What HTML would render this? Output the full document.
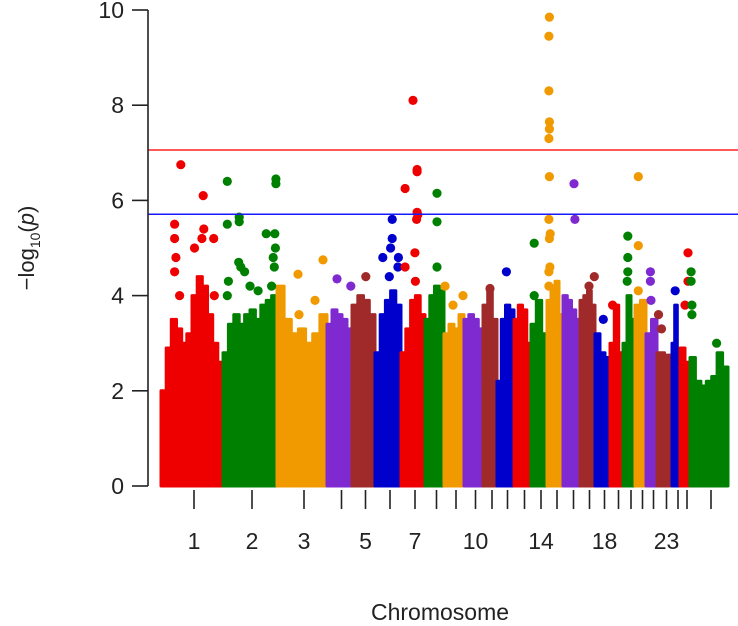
<!DOCTYPE html>
<html><head><meta charset="utf-8"><style>
body{margin:0;background:#fff}
svg{display:block;font-family:"Liberation Sans",sans-serif}
</style></head><body>
<svg id="chart" width="738" height="626" viewBox="0 0 738 626" xmlns="http://www.w3.org/2000/svg">
<g id="bands"></g>
<g id="dots"></g>
<g id="axes"></g>
<text x="440" y="620" font-size="23" text-anchor="middle" fill="#222">Chromosome</text>
<text transform="translate(34,248) rotate(-90)" font-size="22" text-anchor="middle" fill="#222">−log<tspan font-size="14" dy="6">10</tspan><tspan dy="-6">(</tspan><tspan font-style="italic">p</tspan>)</text>
</svg>
<script>
const chromLabels=["1","2","3","4","5","6","7","8","9","10","11","12","13","14","15","16","17","18","19","20","21","22","23","24","25","26"];
const shownLabels=["1","2","3","5","7","10","14","18","23"];
const chromSizes=[62,54,50,25,23,26,24,19,20,19,14,17,17,16,16,17,15,15,13,12,11,11,15,8,10,38];
const yTicks=[0,2,4,6,8,10];
const suggestiveLine=5.71;
const genomeWideLine=7.06;
const palette=["#ee0000","#008000","#f09a00","#7f2ad0","#a02a2a","#0000cc"];
const profiles=[
[2.0,2.9,3.5,3.3,3.0,3.2,4.0,4.4,4.2,3.6,3.0,2.6],
[2.8,3.4,3.6,3.4,3.6,3.7,3.5,3.8,3.9,4.0],
[4.2,3.5,3.2,3.3,3.0,3.2,3.6],
[3.4,3.7,3.6,3.5,3.3],
[3.8,4.0,3.9,3.6],
[2.8,3.6,3.9,4.1,3.8],
[2.8,3.3,3.9,4.0,3.6],
[3.5,4.0,4.2,4.1],
[3.2,3.4,3.3,3.6],
[3.5,3.6,3.5,3.3],
[3.8,4.1,3.5],
[2.2,3.5,3.8,3.7],
[3.5,3.8,3.7,3.0],
[3.4,3.9,3.2],
[3.9,4.2,4.3,3.6],
[4.0,3.9,3.7,3.5],
[3.9,4.0,4.1,3.8],
[3.2,2.8,2.7],
[3.0,3.8,2.8],
[3.0,4.0,3.5],
[3.8,3.9],
[3.2,3.5],
[2.8,2.75],
[3.0,3.8,2.8],
[2.9,2.6],
[2.7,2.2,2.1,2.2,2.3,2.8,2.5]
];
const peaks=[
[[0.32,6.75],[0.68,6.1],[0.22,5.5],[0.22,5.2],[0.24,4.8],[0.22,4.5],[0.54,5.0],[0.69,5.4],[0.85,5.2],[0.66,5.2],[0.86,4.0],[0.3,4.0]],
[[0.08,6.4],[0.08,5.5],[0.08,4.0],[0.1,4.3],[0.3,5.65],[0.3,5.55],[0.29,4.7],[0.33,4.6],[0.4,4.5],[0.5,4.2],[0.65,4.1],[0.8,5.3],[0.96,5.3],[0.98,6.45],[0.98,6.35],[0.97,5.0],[0.95,4.6],[0.9,4.2],[0.93,4.8]],
[[0.42,4.45],[0.92,4.75],[0.76,3.9],[0.44,3.6]],
[[0.4,4.35],[0.95,4.2]],
[[0.6,4.4]],
[[0.66,5.6],[0.66,5.2],[0.6,5.0],[0.3,4.8],[0.9,4.8],[0.55,4.4],[0.88,4.6]],
[[0.5,8.1],[0.67,6.65],[0.67,6.6],[0.17,6.25],[0.67,5.75],[0.7,5.7],[0.65,5.6],[0.58,4.9],[0.17,4.6],[0.6,4.3]],
[[0.63,6.15],[0.63,5.55],[0.63,4.6]],
[[0.05,4.2],[0.45,3.8],[0.95,4.0]],
[],
[[0.5,4.15]],
[[0.55,4.5]],
[],
[[0.2,5.1],[0.2,4.0]],
[[0.15,9.85],[0.12,9.45],[0.12,8.3],[0.15,7.65],[0.15,7.5],[0.12,7.3],[0.15,6.5],[0.12,5.6],[0.2,5.3],[0.15,5.2],[0.18,4.6],[0.12,4.5],[0.12,4.2]],
[[0.65,6.35],[0.7,5.6]],
[[0.95,4.4],[0.6,4.2]],
[[0.55,3.5]],
[[0.2,3.8]],
[[0.4,5.25],[0.4,4.8],[0.4,4.5],[0.35,4.3]],
[[0.3,6.5],[0.3,5.05],[0.3,4.1]],
[[0.4,4.5],[0.4,4.3],[0.45,3.9]],
[[0.1,3.6],[0.3,3.3]],
[[0.4,4.1]],
[[0.8,4.9],[0.8,4.3],[0.5,3.8]],
[[0.03,4.5],[0.03,4.3],[0.05,3.8],[0.05,3.6],[0.7,3.0]]
];
const X0=161,X1=728,Y0=486,YTOP=10;
const total=chromSizes.reduce((a,b)=>a+b,0);
function xScale(pos){return X0+(pos/total)*(X1-X0);}
function yScale(v){return Y0-(v/10)*(Y0-YTOP);}
const NS="http://www.w3.org/2000/svg";
function mk(tag,attrs,parent){const e=document.createElementNS(NS,tag);for(const k in attrs)e.setAttribute(k,attrs[k]);parent.appendChild(e);return e;}
const bands=document.getElementById('bands'),dots=document.getElementById('dots'),axes=document.getElementById('axes');
let cum=0;const centers=[];
chromSizes.forEach((s,i)=>{
  const col=palette[i%6];
  const xa=xScale(cum),xb=xScale(cum+s);
  centers.push((xa+xb)/2+2);
  const prof=profiles[i];
  const w=(xb-xa)/prof.length;
  let pts=[xa.toFixed(1)+","+Y0];
  prof.forEach((v,j)=>{
    const y=yScale(v).toFixed(1);
    pts.push((xa+j*w).toFixed(1)+","+y);
    pts.push((xa+(j+1)*w).toFixed(1)+","+y);
  });
  pts.push(xb.toFixed(1)+","+Y0);
  const p=mk('polygon',{points:pts.join(' '),fill:col,stroke:col,'stroke-width':3,'stroke-linejoin':'round'},bands);
  
  
  peaks[i].forEach(pk=>{
    const c=mk('circle',{cx:xScale(cum+pk[0]*s).toFixed(1),cy:yScale(pk[1]).toFixed(1),r:4.6,fill:col},dots);
    
    
  });
  cum+=s;
});
const l1=mk('line',{x1:148,x2:738,y1:yScale(genomeWideLine),y2:yScale(genomeWideLine),stroke:'#ff2020','stroke-width':1.5},axes);


const l2=mk('line',{x1:148,x2:738,y1:yScale(suggestiveLine),y2:yScale(suggestiveLine),stroke:'#1a1aff','stroke-width':1.5},axes);


const ya=mk('line',{x1:148,x2:148,y1:yScale(10),y2:yScale(0),stroke:'#222','stroke-width':1.6},axes);


yTicks.forEach(t=>{
  const y=yScale(t);
  const tk=mk('line',{x1:132,x2:148,y1:y,y2:y,stroke:'#222','stroke-width':1.6},axes);
  
  
  const tx=mk('text',{x:124,y:y+8,'font-size':23,'text-anchor':'end',fill:'#222'},axes);
  tx.textContent=t;
  
  
});
centers.forEach((cx,i)=>{
  const tk=mk('line',{x1:cx,x2:cx,y1:490,y2:509,stroke:'#222','stroke-width':1.6},axes);
  
  
  if(shownLabels.includes(chromLabels[i])){
    const tx=mk('text',{x:cx,y:549,'font-size':23,'text-anchor':'middle',fill:'#222'},axes);
    tx.textContent=chromLabels[i];
    
    
  }
});
</script>
</body></html>
